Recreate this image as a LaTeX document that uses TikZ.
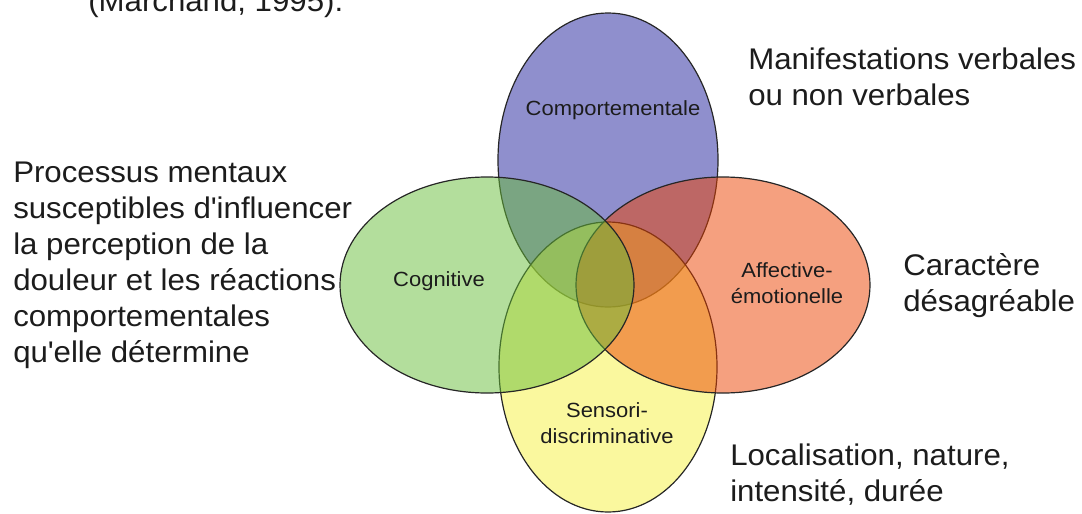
\documentclass[tikz,border=0pt]{standalone}
\usepackage{fontspec}
\setmainfont{Liberation Sans}
\newfontfamily\widesans{Liberation Sans}[FakeStretch=1.045]
\newfontfamily\labelsans{Liberation Sans}[FakeStretch=1.07]
\usetikzlibrary{positioning}

\definecolor{comportblue}{RGB}{31,31,155}
\definecolor{sensoyellow}{RGB}{245,241,61}
\definecolor{affectorange}{RGB}{235,65,0}
\definecolor{cognigreen}{RGB}{103,189,57}
\definecolor{inkgray}{RGB}{28,28,28}

\tikzset{
  petal/.style={draw=black!85, line width=0.9pt, fill opacity=0.5},
  petallabel/.style={font=\labelsans\fontsize{15.4}{19}\selectfont, align=center, text=inkgray},
  sidetext/.style={font=\widesans\fontsize{22.4}{27}\selectfont, align=left, anchor=west,
    inner sep=0pt, text=inkgray}
}

\begin{document}
\begin{tikzpicture}[x=0.75pt, y=-0.75pt]
\useasboundingbox (0,0) rectangle (1082,514);
\clip (0,0) rectangle (1082,514);

% the four dimensions, back to front
\path[petal, fill=comportblue] (608,160) ellipse [x radius=110, y radius=147];
\path[petal, fill=sensoyellow] (608,367) ellipse [x radius=109, y radius=145];
\path[petal, fill=affectorange] (723,285) ellipse [x radius=147, y radius=108];
\path[petal, fill=cognigreen] (487,285) ellipse [x radius=147, y radius=108];

% names of the dimensions
\node[petallabel] (comport) at (613,110) {Comportementale};
\node[petallabel] (cogni) at (439,281) {Cognitive};
\node[petallabel] (affect) at (787,283) {Affective-\\émotionelle};
\node[petallabel] (senso) at (607,423) {Sensori-\\discriminative};

% descriptions around the diagram
\node[sidetext, anchor=base west] (source) at (88,12) {(Marchand, 1995).};
\node[sidetext] (cognidesc) at (13,265) {Processus mentaux\\susceptibles d\textquotesingle influencer\\la perception de la\\douleur et les réactions\\comportementales\\qu\textquotesingle elle détermine};
\node[sidetext] (comportdesc) at (748,77) {Manifestations verbales\\ou non verbales};
\node[sidetext] (affectdesc) at (903,286) {Caractère\\désagréable};
\node[sidetext] (sensodesc) at (730,475) {Localisation, nature,\\intensité, durée};
\end{tikzpicture}
\end{document}
